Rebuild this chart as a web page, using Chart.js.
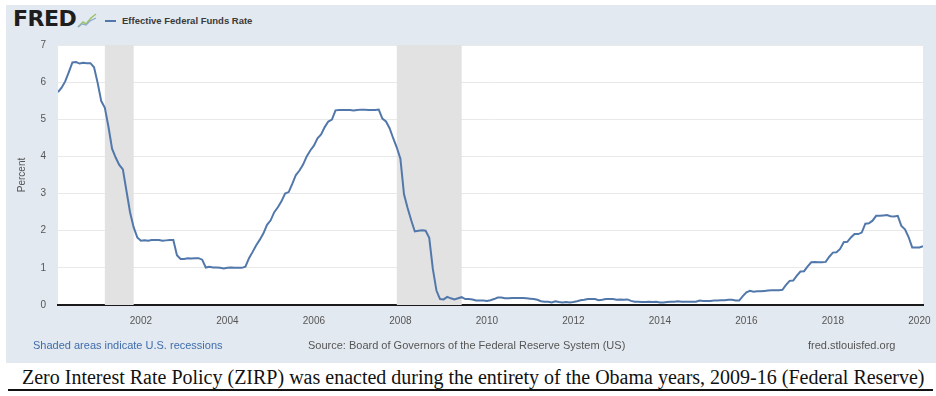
<!DOCTYPE html>
<html lang="en">
<head>
    <meta charset="UTF-8">
    <title>Effective Federal Funds Rate</title>
    <style>
        body {
            margin: 0;
            width: 936px;
            height: 396px;
            position: relative;
            overflow: hidden;
            background: #fff;
            font-family: "Liberation Sans", Arial, sans-serif;
        }
        .panel {
            position: absolute;
            left: 6px;
            top: 5px;
            width: 930px;
            height: 358px;
            background: #e3e9f0;
        }
        .abs { position: absolute; white-space: nowrap; }
        #logo {
            left: 13px;
            top: 7px;
            font: bold 22px "DejaVu Sans", sans-serif;
            letter-spacing: -0.5px;
            color: #1e1e1e;
            line-height: 24px;
        }
        #legendLine {
            left: 105px;
            top: 20px;
            width: 11px;
            height: 2px;
            background: #5278ab;
        }
        #legendText {
            left: 122px;
            top: 15px;
            font-size: 9.5px;
            font-weight: bold;
            color: #3a3a3a;
            line-height: 12px;
        }
        .foot {
            top: 339px;
            font-size: 11px;
            line-height: 13px;
            color: #555;
        }
        #caption {
            left: 22px;
            top: 366px;
            font: 20px "Liberation Serif", "Times New Roman", serif;
            line-height: 22px;
            color: #111;
        }
        #rule {
            left: 8px;
            top: 389px;
            width: 925px;
            height: 2px;
            background: #111;
        }
        #valueChart {
            position: absolute;
            left: 0;
            top: 0;
        }
    </style>
</head>
<body>
    <div class="panel"></div>
    <div class="abs" id="logo">FRED</div>
    <svg class="abs" style="left:77px;top:12px" width="20" height="16" viewBox="0 0 20 16">
        <polyline points="1,15 6,10 9,12 14,6 19,2" fill="none" stroke="#9cc46a" stroke-width="1.6"/>
        <polyline points="1,15 5,12 9,13 13,9 19,6" fill="none" stroke="#8fa9c9" stroke-width="1.2"/>
    </svg>
    <div class="abs" id="legendLine"></div>
    <div class="abs" id="legendText">Effective Federal Funds Rate</div>

    <canvas id="valueChart" width="936" height="340"></canvas>

    <div class="abs foot" style="left:33px;color:#3f6dab">Shaded areas indicate U.S. recessions</div>
    <div class="abs foot" style="left:308px">Source: Board of Governors of the Federal Reserve System (US)</div>
    <div class="abs foot" style="left:808px">fred.stlouisfed.org</div>

    <div class="abs" id="caption">Zero Interest Rate Policy (ZIRP) was enacted during the entirety of the Obama years, 2009-16 (Federal Reserve)</div>
    <div class="abs" id="rule"></div>

    <script src="https://cdn.jsdelivr.net/npm/chart.js"></script>

    <script>
        // First month of the series (Feb 2000), monthly values after that
        const startYear = 2000;
        const startMonth = 2;

        // Effective Federal Funds Rate, percent, one row per year
        const fedFundsRate = [
            5.73, 5.85, 6.02, 6.27, 6.53, 6.54, 6.50, 6.52, 6.51, 6.51, 6.40,          // 2000 (Feb-Dec)
            5.98, 5.49, 5.31, 4.80, 4.21, 3.97, 3.77, 3.65, 3.07, 2.49, 2.09, 1.82,    // 2001
            1.73, 1.74, 1.73, 1.75, 1.75, 1.75, 1.73, 1.74, 1.75, 1.75, 1.34, 1.24,    // 2002
            1.24, 1.26, 1.25, 1.26, 1.26, 1.22, 1.01, 1.03, 1.01, 1.01, 1.00, 0.98,    // 2003
            1.00, 1.01, 1.00, 1.00, 1.00, 1.03, 1.26, 1.43, 1.61, 1.76, 1.93, 2.16,    // 2004
            2.28, 2.50, 2.63, 2.79, 3.00, 3.04, 3.26, 3.50, 3.62, 3.78, 4.00, 4.16,    // 2005
            4.29, 4.49, 4.59, 4.79, 4.94, 4.99, 5.24, 5.25, 5.25, 5.25, 5.25, 5.24,    // 2006
            5.25, 5.26, 5.26, 5.25, 5.25, 5.25, 5.26, 5.02, 4.94, 4.76, 4.49, 4.24,    // 2007
            3.94, 2.98, 2.61, 2.28, 1.98, 2.00, 2.01, 2.00, 1.81, 0.97, 0.39, 0.16,    // 2008
            0.15, 0.22, 0.18, 0.15, 0.18, 0.21, 0.16, 0.16, 0.15, 0.12, 0.12, 0.12,    // 2009
            0.11, 0.13, 0.16, 0.20, 0.20, 0.18, 0.18, 0.19, 0.19, 0.19, 0.19, 0.18,    // 2010
            0.17, 0.16, 0.14, 0.10, 0.09, 0.09, 0.07, 0.10, 0.08, 0.07, 0.08, 0.07,    // 2011
            0.08, 0.10, 0.13, 0.14, 0.16, 0.16, 0.16, 0.13, 0.14, 0.16, 0.16, 0.16,    // 2012
            0.14, 0.15, 0.14, 0.15, 0.11, 0.09, 0.09, 0.08, 0.08, 0.09, 0.08, 0.09,    // 2013
            0.07, 0.07, 0.08, 0.09, 0.09, 0.10, 0.09, 0.09, 0.09, 0.09, 0.09, 0.12,    // 2014
            0.11, 0.11, 0.11, 0.12, 0.12, 0.13, 0.13, 0.14, 0.14, 0.12, 0.12, 0.24,    // 2015
            0.34, 0.38, 0.36, 0.37, 0.37, 0.38, 0.39, 0.40, 0.40, 0.40, 0.41, 0.54,    // 2016
            0.65, 0.66, 0.79, 0.90, 0.91, 1.04, 1.15, 1.16, 1.15, 1.15, 1.16, 1.30,    // 2017
            1.41, 1.42, 1.51, 1.69, 1.70, 1.82, 1.91, 1.91, 1.95, 2.19, 2.20, 2.27,    // 2018
            2.40, 2.40, 2.41, 2.42, 2.39, 2.38, 2.40, 2.13, 2.04, 1.83, 1.55, 1.55,    // 2019
            1.55, 1.58                                                                  // 2020 (Jan-Feb)
        ];

        // Recessions as [start, end] in [year, month]
        const recessions = [
            [[2001, 3], [2001, 11]],
            [[2007, 12], [2009, 6]]
        ];

        const xTickYears = [2002, 2004, 2006, 2008, 2010, 2012, 2014, 2016, 2018, 2020];
        const yMin = 0;
        const yMax = 7;

        const lineColor = '#5278ab';
        const tickFont = { family: '"Liberation Sans", Arial, sans-serif', size: 10 };

        // month -> decimal year so the axis is linear in time
        function toYear(year, month) {
            return year + (month - 1) / 12;
        }

        const points = fedFundsRate.map(function(v, i) {
            return { x: toYear(startYear, startMonth) + i / 12, y: v };
        });
        const xMin = points[0].x;
        const xMax = points[points.length - 1].x;

        // white plot area + grey recession bars
        const plotBackground = {
            id: 'plotBackground',
            beforeDraw(chart) {
                const { ctx, chartArea } = chart;
                ctx.save();
                ctx.fillStyle = '#ffffff';
                ctx.fillRect(chartArea.left, chartArea.top, chartArea.width, chartArea.height);
                ctx.restore();
            },
            beforeDatasetsDraw(chart) {
                const { ctx, chartArea } = chart;
                const xs = chart.scales.x;
                ctx.save();
                ctx.fillStyle = '#e2e2e2';
                recessions.forEach(function(r) {
                    const x0 = xs.getPixelForValue(toYear(r[0][0], r[0][1]));
                    const x1 = xs.getPixelForValue(toYear(r[1][0], r[1][1]));
                    ctx.fillRect(x0, chartArea.top, x1 - x0, chartArea.height);
                });
                ctx.restore();
            }
        };

        const ctx = document.getElementById('valueChart').getContext('2d');
        const valueChart = new Chart(ctx, {
            type: 'line',
            data: {
                datasets: [{
                    label: 'Effective Federal Funds Rate',
                    data: points,
                    borderColor: lineColor,
                    borderWidth: 2,
                    pointRadius: 0,
                    tension: 0,
                    fill: false
                }]
            },
            options: {
                responsive: false,
                animation: false,
                layout: { padding: { top: 45, right: 13, left: 0, bottom: 0 } },
                plugins: {
                    legend: { display: false },
                    tooltip: { enabled: false }
                },
                scales: {
                    x: {
                        type: 'linear',
                        min: xMin,
                        max: xMax,
                        afterBuildTicks: function(scale) {
                            scale.ticks = xTickYears.map(function(v) { return { value: v }; });
                        },
                        afterFit: function(scale) { scale.height = 35; },
                        grid: { display: false },
                        border: { display: true, color: '#1a1a1a', width: 2 },
                        ticks: {
                            color: '#555',
                            font: tickFont,
                            padding: 2,
                            maxRotation: 0,
                            autoSkip: false,
                            callback: function(value) { return String(value); }
                        }
                    },
                    y: {
                        min: yMin,
                        max: yMax,
                        afterFit: function(scale) { scale.width = 58; },
                        grid: { color: '#e9e9e9', drawTicks: false },
                        border: { display: false },
                        ticks: { stepSize: 1, color: '#555', font: tickFont, padding: 12 },
                        title: {
                            display: true,
                            text: 'Percent',
                            color: '#555',
                            font: tickFont,
                            padding: { top: 16, bottom: 0 }
                        }
                    }
                }
            },
            plugins: [plotBackground]
        });
    </script>
</body>
</html>
